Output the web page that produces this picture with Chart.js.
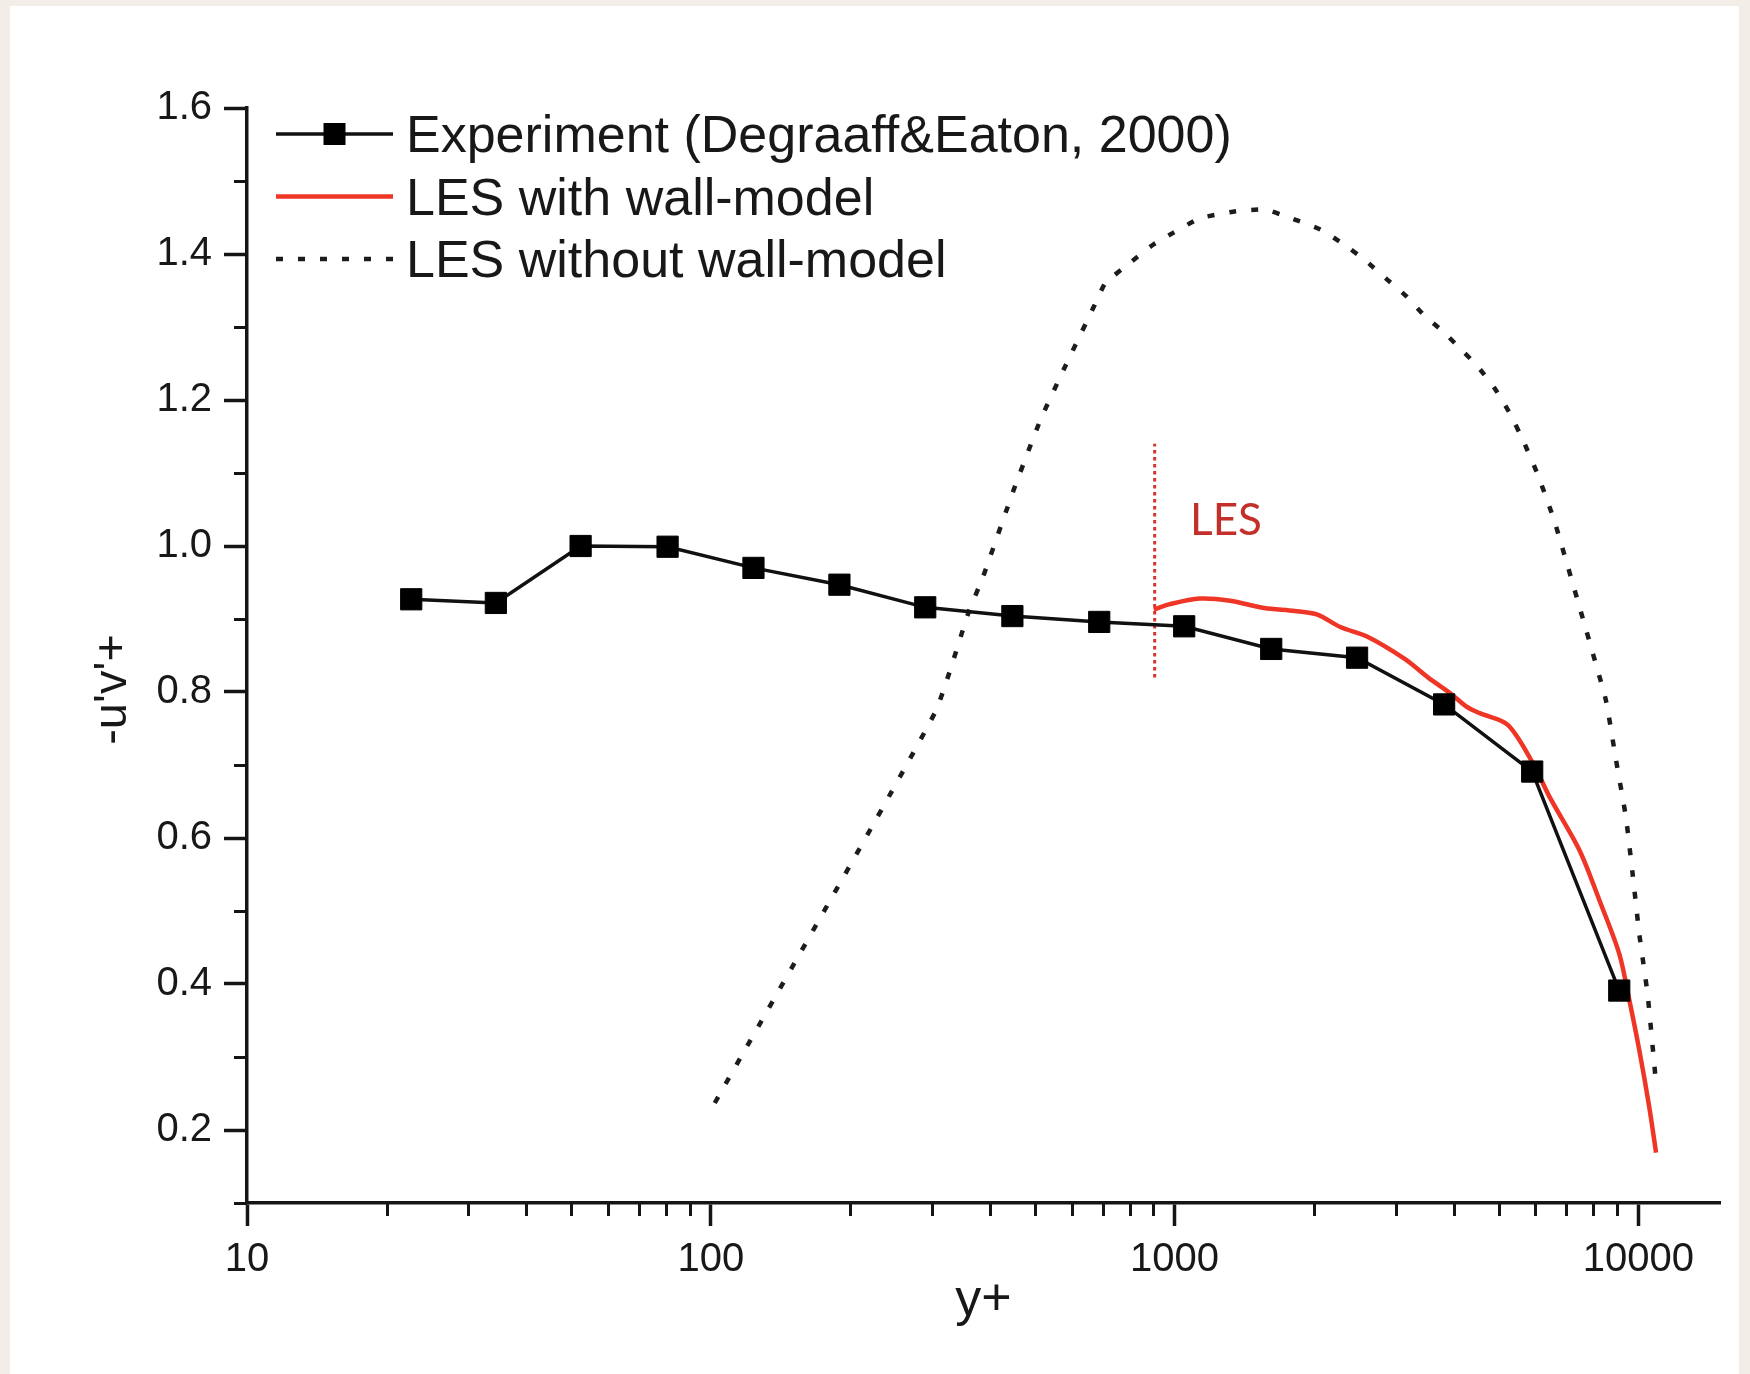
<!DOCTYPE html>
<html>
<head>
<meta charset="utf-8">
<script src="https://cdn.jsdelivr.net/npm/chart.js@4.4.1/dist/chart.umd.min.js"></script>
<style>
  html, body { margin: 0; padding: 0; }
  body { width: 1750px; height: 1374px; background: #f2eee7; position: relative; overflow: hidden; }
  #paper { position: absolute; left: 10px; top: 6px; right: 11px; bottom: 0; background: #fff; }
  #chart { position: absolute; left: 0; top: 0; }
</style>
</head>
<body>
<div id="paper"></div>
<canvas id="chart" width="1750" height="1374"></canvas>
<script>
// experiment (squares)
const expX = [22.6, 34.4, 52.4, 80.7, 123.6, 189.4, 290, 447, 688, 1049, 1616, 2475, 3813, 5904, 9096];
const expY = [0.927, 0.922, 1.000, 0.999, 0.970, 0.947, 0.916, 0.904, 0.896, 0.890, 0.859, 0.847, 0.783, 0.691, 0.391];

// LES with wall-model (red)
const wallX = [902, 973, 1133, 1318, 1561, 1815, 2033, 2277, 2600, 3141, 3518, 3938, 4260, 4550, 5230, 5930, 6440, 7470, 8250, 9100, 9570, 10050, 10560, 10920];
const wallY = [0.913, 0.920, 0.928, 0.925, 0.915, 0.911, 0.906, 0.889, 0.876, 0.845, 0.820, 0.798, 0.780, 0.771, 0.755, 0.702, 0.656, 0.583, 0.514, 0.441, 0.377, 0.309, 0.231, 0.169];

// LES without wall-model (dotted)
const noWallX = [102, 304, 360, 386, 450, 514, 576, 670, 709, 809, 900, 993, 1134, 1337, 1565, 1801, 2056, 2309, 2570, 2862, 3162, 3463, 3793, 4120, 4477, 4900, 5280, 5640, 6076, 6601, 7660, 8510, 8950, 9400, 9720, 10050, 10470, 10920];
const noWallY = [0.237, 0.771, 0.910, 0.957, 1.077, 1.173, 1.241, 1.328, 1.360, 1.390, 1.413, 1.429, 1.449, 1.458, 1.461, 1.448, 1.434, 1.414, 1.392, 1.366, 1.342, 1.315, 1.294, 1.271, 1.248, 1.216, 1.182, 1.145, 1.097, 1.033, 0.892, 0.789, 0.707, 0.629, 0.551, 0.468, 0.386, 0.264];

// red dotted marker where LES region starts
const lesLineX = [906, 906];
const lesLineY = [0.82, 1.14];
const lesLabelX = 1080;
const lesLabelY = 1.015;

// axes
const xMin = 10, xMax = 15000;
const xTickLabels = [10, 100, 1000, 10000];
const yMin = 0.1, yMax = 1.6;
const yTickValues = [0.1, 0.2, 0.3, 0.4, 0.5, 0.6, 0.7, 0.8, 0.9, 1.0, 1.1, 1.2, 1.3, 1.4, 1.5, 1.6];
const yTickLabels = [0.2, 0.4, 0.6, 0.8, 1.0, 1.2, 1.4, 1.6];

const xTickValues = [];
xTickLabels.forEach(d => {
    for (let m = 1; m <= 9; m++) {
        if (m * d <= xMax) xTickValues.push(m * d);
    }
});

const toXY = (xs, ys) => xs.map((x, i) => ({ x: x, y: ys[i] }));
const isMajorX = v => xTickLabels.includes(v);
const isMajorY = v => yTickLabels.some(l => Math.abs(l - v) < 1e-6);

const axisColor = '#151515';
const textColor = '#181818';
const sans = '"Liberation Sans", Arial, sans-serif';

const minorTicks = {
    id: 'minorTicks',
    afterDraw(chart) {
        const { ctx, chartArea, scales: { x, y } } = chart;
        ctx.save();
        ctx.strokeStyle = axisColor;
        ctx.lineWidth = 3;
        ctx.beginPath();
        y.ticks.forEach(t => {
            if (isMajorY(t.value)) return;
            const py = Math.round(y.getPixelForValue(t.value)) + 0.5;
            ctx.moveTo(chartArea.left - 13, py);
            ctx.lineTo(chartArea.left, py);
        });
        x.ticks.forEach(t => {
            if (isMajorX(t.value)) return;
            const px = Math.round(x.getPixelForValue(t.value)) + 0.5;
            ctx.moveTo(px, chartArea.bottom);
            ctx.lineTo(px, chartArea.bottom + 13);
        });
        ctx.stroke();
        ctx.restore();
    }
};

const annotations = {
    id: 'annotations',
    afterDraw(chart) {
        const { ctx, chartArea: a, scales: { x, y } } = chart;
        const ds = chart.data.datasets;
        ctx.save();

        // legend, top left inside the plot
        const x0 = a.left + 29, x1 = x0 + 117;
        ctx.font = '52px ' + sans;
        ctx.textBaseline = 'alphabetic';
        for (let i = 0; i < 3; i++) {
            const d = ds[i];
            const ry = a.top + 26 + i * 62.5;
            ctx.beginPath();
            ctx.setLineDash(d.borderDash || []);
            ctx.strokeStyle = d.borderColor;
            ctx.lineWidth = d.borderWidth;
            ctx.moveTo(x0, ry);
            ctx.lineTo(x1, ry);
            ctx.stroke();
            if (d.pointStyle === 'rect') {
                ctx.fillStyle = d.pointBackgroundColor;
                ctx.fillRect((x0 + x1) / 2 - 11, ry - 11, 22, 22);
            }
            ctx.fillStyle = textColor;
            ctx.fillText(d.label, x1 + 13, ry + 18);
        }
        ctx.setLineDash([]);

        // LES label
        ctx.font = '44px Lato, "Open Sans", sans-serif';
        ctx.fillStyle = '#c3302a';
        ctx.textAlign = 'left';
        ctx.fillText('LES', x.getPixelForValue(lesLabelX), y.getPixelForValue(lesLabelY));

        // axis titles
        ctx.fillStyle = textColor;
        ctx.font = '52px ' + sans;
        ctx.textAlign = 'center';
        ctx.fillText('y+', (a.left + a.right) / 2, a.bottom + 112);

        ctx.translate(126, (a.top + a.bottom) / 2 + 34);
        ctx.rotate(-Math.PI / 2);
        ctx.font = '47px ' + sans;
        ctx.fillText("-u'v'+", 0, 0);
        ctx.restore();
    }
};

new Chart(document.getElementById('chart'), {
    type: 'scatter',
    data: {
        datasets: [
            {
                label: 'Experiment (Degraaff&Eaton, 2000)',
                data: toXY(expX, expY),
                showLine: true,
                borderColor: '#111111',
                borderWidth: 3.5,
                pointStyle: 'rect',
                pointRadius: 15,
                pointBackgroundColor: '#000000',
                pointBorderColor: '#000000',
                pointBorderWidth: 1,
                order: 0
            },
            {
                label: 'LES with wall-model',
                data: toXY(wallX, wallY),
                showLine: true,
                borderColor: '#ee3526',
                borderWidth: 4.5,
                pointRadius: 0,
                tension: 0.3,
                order: 1
            },
            {
                label: 'LES without wall-model',
                data: toXY(noWallX, noWallY),
                showLine: true,
                borderColor: '#1c1c1c',
                borderWidth: 4.5,
                borderDash: [7, 15],
                pointRadius: 0,
                tension: 0.15,
                order: 2
            },
            {
                label: 'LES start',
                data: toXY(lesLineX, lesLineY),
                showLine: true,
                borderColor: '#d8332c',
                borderWidth: 3,
                borderDash: [3.5, 3.5],
                pointRadius: 0,
                order: 3
            }
        ]
    },
    options: {
        responsive: false,
        animation: false,
        devicePixelRatio: 1,
        layout: { padding: { left: 0, top: 108, right: 30, bottom: 0 } },
        plugins: {
            legend: { display: false },
            tooltip: { enabled: false }
        },
        scales: {
            x: {
                type: 'logarithmic',
                min: xMin,
                max: xMax,
                afterBuildTicks: s => { s.ticks = xTickValues.map(v => ({ value: v })); },
                afterFit: s => { s.height = 171; },
                ticks: {
                    autoSkip: false,
                    maxRotation: 0,
                    padding: 10,
                    color: textColor,
                    font: { family: sans, size: 40 },
                    callback: v => isMajorX(v) ? String(v) : ''
                },
                grid: {
                    drawOnChartArea: false,
                    tickLength: 23,
                    tickWidth: 3.5,
                    tickColor: c => (c.tick && isMajorX(c.tick.value)) ? axisColor : 'rgba(0,0,0,0)'
                },
                border: { color: axisColor, width: 3.5 }
            },
            y: {
                type: 'linear',
                min: yMin,
                max: yMax,
                afterBuildTicks: s => { s.ticks = yTickValues.map(v => ({ value: v })); },
                afterFit: s => { s.width = 247; },
                ticks: {
                    autoSkip: false,
                    padding: 12,
                    color: textColor,
                    font: { family: sans, size: 40 },
                    callback: v => isMajorY(v) ? v.toFixed(1) : ''
                },
                grid: {
                    drawOnChartArea: false,
                    tickLength: 23,
                    tickWidth: 3.5,
                    tickColor: c => (c.tick && isMajorY(c.tick.value)) ? axisColor : 'rgba(0,0,0,0)'
                },
                border: { color: axisColor, width: 3.5 }
            }
        }
    },
    plugins: [minorTicks, annotations]
});
</script>
</body>
</html>
